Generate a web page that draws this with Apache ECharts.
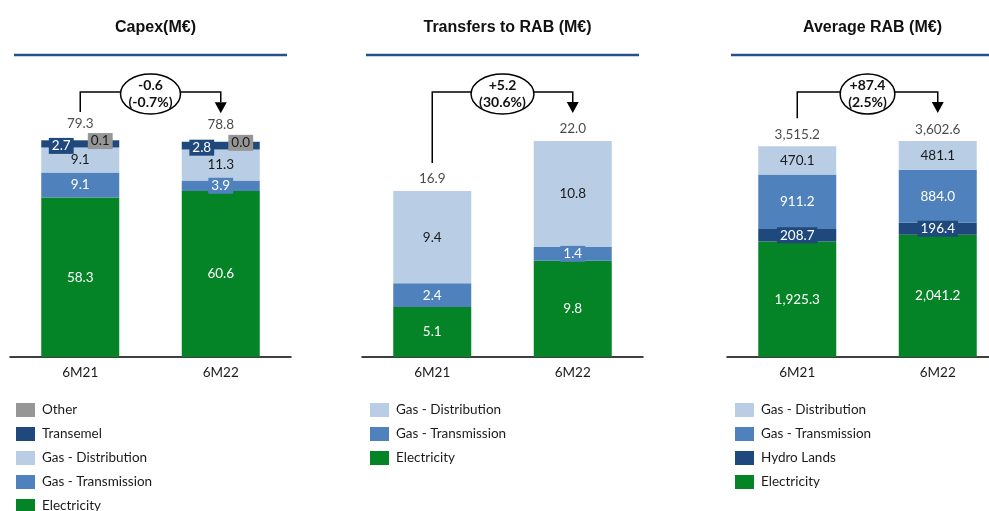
<!DOCTYPE html>
<html>
<head>
<meta charset="utf-8">
<script src="https://cdn.jsdelivr.net/npm/echarts@6/dist/echarts.min.js"></script>
<style>html,body{margin:0;padding:0;background:#fff;}#c{width:989px;height:511px;}</style>
</head>
<body>
<div id="c"></div>
<script>
// ---- Data ----
const categories = ['6M21', '6M22'];
const panelTitles = ['Capex(M€)', 'Transfers to RAB (M€)', 'Average RAB (M€)'];

const capexElectricity = [58.3, 60.6];
const capexGasTransmission = [9.1, 3.9];
const capexGasDistribution = [9.1, 11.3];
const capexTransemel = [2.7, 2.8];
const capexOther = [0.1, 0.0];
const capexTotal = [79.3, 78.8];

const transElectricity = [5.1, 9.8];
const transGasTransmission = [2.4, 1.4];
const transGasDistribution = [9.4, 10.8];
const transTotal = [16.9, 22.0];

const rabElectricity = [1925.3, 2041.2];
const rabHydroLands = [208.7, 196.4];
const rabGasTransmission = [911.2, 884.0];
const rabGasDistribution = [470.1, 481.1];
const rabTotal = [3515.2, 3602.6];

const deltaValues = ['-0.6', '+5.2', '+87.4'];
const deltaPercents = ['(-0.7%)', '(30.6%)', '(2.5%)'];

const legend1 = ['Other', 'Transemel', 'Gas - Distribution', 'Gas - Transmission', 'Electricity'];
const legend2 = ['Gas - Distribution', 'Gas - Transmission', 'Electricity'];
const legend3 = ['Gas - Distribution', 'Gas - Transmission', 'Hydro Lands', 'Electricity'];

// ---- Style ----
const COL = {
  'Electricity': '#048426',
  'Gas - Transmission': '#4f81bd',
  'Gas - Distribution': '#b9cde5',
  'Transemel': '#1f497d',
  'Hydro Lands': '#1f497d',
  'Other': '#969696'
};
const DARK_TEXT = {'Gas - Distribution': true, 'Other': true};
const FONT = 'Lato, "Open Sans", sans-serif';
const TITLE_FONT = '"Liberation Sans", Arial, sans-serif';
const TXT = '#1a1a1a';

const gridLefts = [10, 362, 727];
const gridWidth = 281;
const yMax = [108.5, 30.25, 4954];

function fmt(panel, v) {
  return panel === 2
    ? v.toLocaleString('en-US', {minimumFractionDigits: 1, maximumFractionDigits: 1})
    : v.toFixed(1);
}

function barSeries(panel, name, data, labelExtra) {
  return {
    type: 'bar', name: name, stack: 's' + panel,
    xAxisIndex: panel, yAxisIndex: panel,
    barWidth: 78,
    data: data,
    itemStyle: {color: COL[name]},
    label: Object.assign({
      show: true, position: 'inside',
      fontFamily: FONT, fontSize: 13.5,
      color: DARK_TEXT[name] ? TXT : '#fff',
      backgroundColor: COL[name],
      padding: [1, 3],
      formatter: p => fmt(panel, p.value)
    }, labelExtra || {})
  };
}
function totalSeries(panel, data, dist) {
  return {
    type: 'scatter', name: 'total' + panel,
    xAxisIndex: panel, yAxisIndex: panel,
    symbolSize: 1, itemStyle: {color: 'rgba(0,0,0,0)'},
    data: data,
    label: {show: true, position: 'top', distance: dist, fontFamily: FONT, fontSize: 13.5, color: TXT,
      formatter: p => fmt(panel, p.value)},
    z: 5
  };
}

const series = [
  barSeries(0, 'Electricity', capexElectricity),
  barSeries(0, 'Gas - Transmission', capexGasTransmission),
  barSeries(0, 'Gas - Distribution', capexGasDistribution),
  barSeries(0, 'Transemel', capexTransemel, {offset: [-19, 2]}),
  barSeries(0, 'Other', capexOther, {offset: [20, 1]}),
  totalSeries(0, capexTotal, 9),
  barSeries(1, 'Electricity', transElectricity),
  barSeries(1, 'Gas - Transmission', transGasTransmission),
  barSeries(1, 'Gas - Distribution', transGasDistribution),
  totalSeries(1, transTotal, 5),
  barSeries(2, 'Electricity', rabElectricity),
  barSeries(2, 'Hydro Lands', rabHydroLands),
  barSeries(2, 'Gas - Transmission', rabGasTransmission),
  barSeries(2, 'Gas - Distribution', rabGasDistribution),
  totalSeries(2, rabTotal, 4)
];
const totalSeriesIdx = [5, 9, 14];

const grids = [], xAxes = [], yAxes = [], titles = [];
for (let i = 0; i < 3; i++) {
  grids.push({left: gridLefts[i], width: gridWidth, top: 60, bottom: 154, outerBoundsMode: 'none', containLabel: false});
  xAxes.push({
    type: 'category', gridIndex: i, data: categories,
    axisLine: {lineStyle: {color: '#000', width: 1.5}},
    axisTick: {show: false},
    axisLabel: {fontFamily: FONT, fontSize: 13.5, color: TXT, margin: 9}
  });
  yAxes.push({type: 'value', gridIndex: i, min: 0, max: yMax[i], show: false, splitLine: {show: false}});
  titles.push({
    text: panelTitles[i], left: gridLefts[i] + gridWidth / 2, top: 15, textAlign: 'center',
    textStyle: {fontFamily: TITLE_FONT, fontSize: 16, fontWeight: 'bold', color: '#111'}
  });
}

function legendCfg(left, data) {
  return {
    orient: 'vertical', left: left, top: 398, height: 160, data: data,
    icon: 'rect', itemWidth: 19, itemHeight: 14, itemGap: 10,
    selectedMode: false,
    textStyle: {fontFamily: FONT, fontSize: 13.5, color: TXT, padding: [0, 0, 0, 2]}
  };
}

const chart = echarts.init(document.getElementById('c'), null, {renderer: 'canvas'});
chart.setOption({
  animation: false,
  backgroundColor: '#fff',
  title: titles,
  grid: grids,
  xAxis: xAxes,
  yAxis: yAxes,
  legend: [legendCfg(11, legend1), legendCfg(365, legend2), legendCfg(730, legend3)],
  series: series
});

// ---- Annotations (title rules, change brackets) ----
const measureCtx = document.createElement('canvas').getContext('2d');
const ANN_FONT = 'bold 14px ' + FONT;
measureCtx.font = ANN_FONT;
const graphics = [];
const totals = [capexTotal, transTotal, rabTotal];
for (let i = 0; i < 3; i++) {
  const l = gridLefts[i] + 4, r = Math.min(gridLefts[i] + gridWidth - 4, 989);
  graphics.push({type: 'line', shape: {x1: l, y1: 55, x2: r, y2: 55},
    style: {stroke: '#24508f', lineWidth: 2.5}, silent: true});

  const p1 = chart.convertToPixel({seriesIndex: totalSeriesIdx[i]}, [categories[0], totals[i][0]]);
  const p2 = chart.convertToPixel({seriesIndex: totalSeriesIdx[i]}, [categories[1], totals[i][1]]);
  const hy = 92, gap = 28, ah = 11;
  const tip = p2[1] - gap;
  graphics.push({type: 'polyline', shape: {points: [[p1[0], p1[1] - gap], [p1[0], hy], [p2[0], hy], [p2[0], tip - ah]]},
    style: {stroke: '#000', lineWidth: 1.5, fill: null}, silent: true, z: 10});
  graphics.push({type: 'polygon', shape: {points: [[p2[0] - 6, tip - ah], [p2[0] + 6, tip - ah], [p2[0], tip]]},
    style: {fill: '#000'}, silent: true, z: 10});
  const cx = (p1[0] + p2[0]) / 2;
  const tw = Math.max(measureCtx.measureText(deltaValues[i]).width, measureCtx.measureText(deltaPercents[i]).width);
  const rx = tw / 2 + 8;
  graphics.push({type: 'ellipse', shape: {cx: cx, cy: 94, rx: rx, ry: 20},
    style: {fill: '#fff', stroke: '#000', lineWidth: 1.5}, silent: true, z: 11});
  graphics.push({type: 'text', x: cx, y: 94, z: 12, silent: true,
    style: {text: deltaValues[i] + '\n' + deltaPercents[i], align: 'center', verticalAlign: 'middle',
      font: ANN_FONT, fill: '#111', lineHeight: 17}});
}
chart.setOption({graphic: graphics});
</script>
</body>
</html>
